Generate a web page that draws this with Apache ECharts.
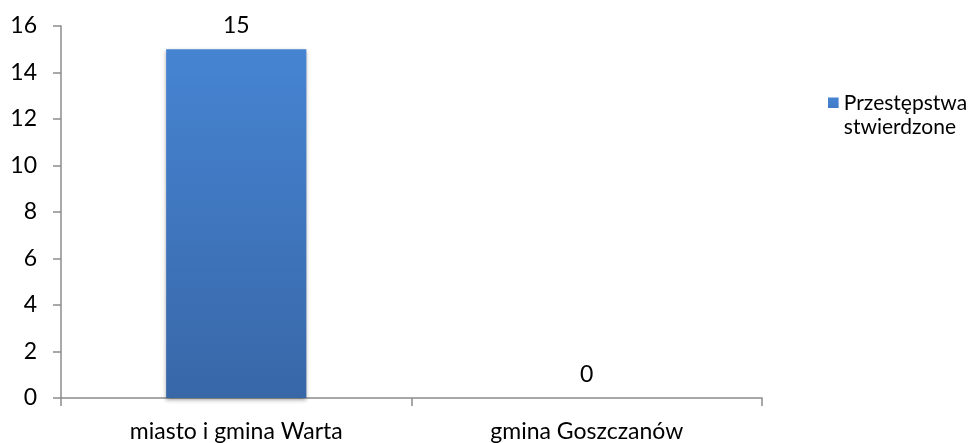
<!DOCTYPE html>
<html><head><meta charset="utf-8">
<script src="https://cdn.jsdelivr.net/npm/echarts@6/dist/echarts.min.js"></script>
<style>html,body{margin:0;padding:0;background:#fff}#c{width:975px;height:443px}</style>
</head><body><div id="c"></div>
<script>
const categories = ['miasto i gmina Warta', 'gmina Goszczanów'];
const values = [15, 0];
const seriesName = 'Przestępstwa\nstwierdzone';
const yTicks = {min: 0, max: 16, interval: 2};

const chart = echarts.init(document.getElementById('c'), null, {renderer: 'canvas'});
const font = 'Lato, "Open Sans", sans-serif';
chart.setOption({
  animation: false,
  backgroundColor: '#fff',
  grid: {left: 61, right: 213, top: 26, bottom: 45},
  legend: {
    data: [{name: seriesName, icon: 'path://M0,0h10v10h-10z M0,33h0.01v0.01h-0.01z'}],
    left: 823, top: 86, orient: 'vertical',
    itemWidth: 11, itemHeight: 35, itemGap: 4,
    textStyle: {fontFamily: font, fontSize: 21, color: '#000', lineHeight: 24, padding: [0, 0, 0, 0]}
  },
  xAxis: {
    type: 'category', data: categories,
    axisLine: {lineStyle: {color: '#8c8c8c', width: 1.5}},
    axisTick: {show: true, length: 8, alignWithLabel: false, lineStyle: {color: '#8c8c8c', width: 1.5}},
    axisLabel: {fontFamily: font, fontSize: 23, color: '#000', margin: 22}
  },
  yAxis: {
    type: 'value', min: yTicks.min, max: yTicks.max, interval: yTicks.interval,
    splitLine: {show: false},
    axisLine: {show: true, lineStyle: {color: '#8c8c8c', width: 1.5}},
    axisTick: {show: true, length: 8, lineStyle: {color: '#8c8c8c', width: 1.5}},
    axisLabel: {fontFamily: font, fontSize: 23, color: '#000', margin: 24}
  },
  series: [{
    name: seriesName, type: 'bar', data: values, barWidth: '40%',
    itemStyle: {
      color: new echarts.graphic.LinearGradient(0, 0, 0, 1, [
        {offset: 0, color: '#4684d2'}, {offset: 1, color: '#3867a8'}
      ]),
      borderWidth: 0,
      shadowColor: 'rgba(0,0,0,0.35)', shadowBlur: 4, shadowOffsetY: 2
    },
    label: {show: true, position: 'top', distance: 12, fontFamily: font, fontSize: 23, color: '#000'}
  }]
});
</script></body></html>
